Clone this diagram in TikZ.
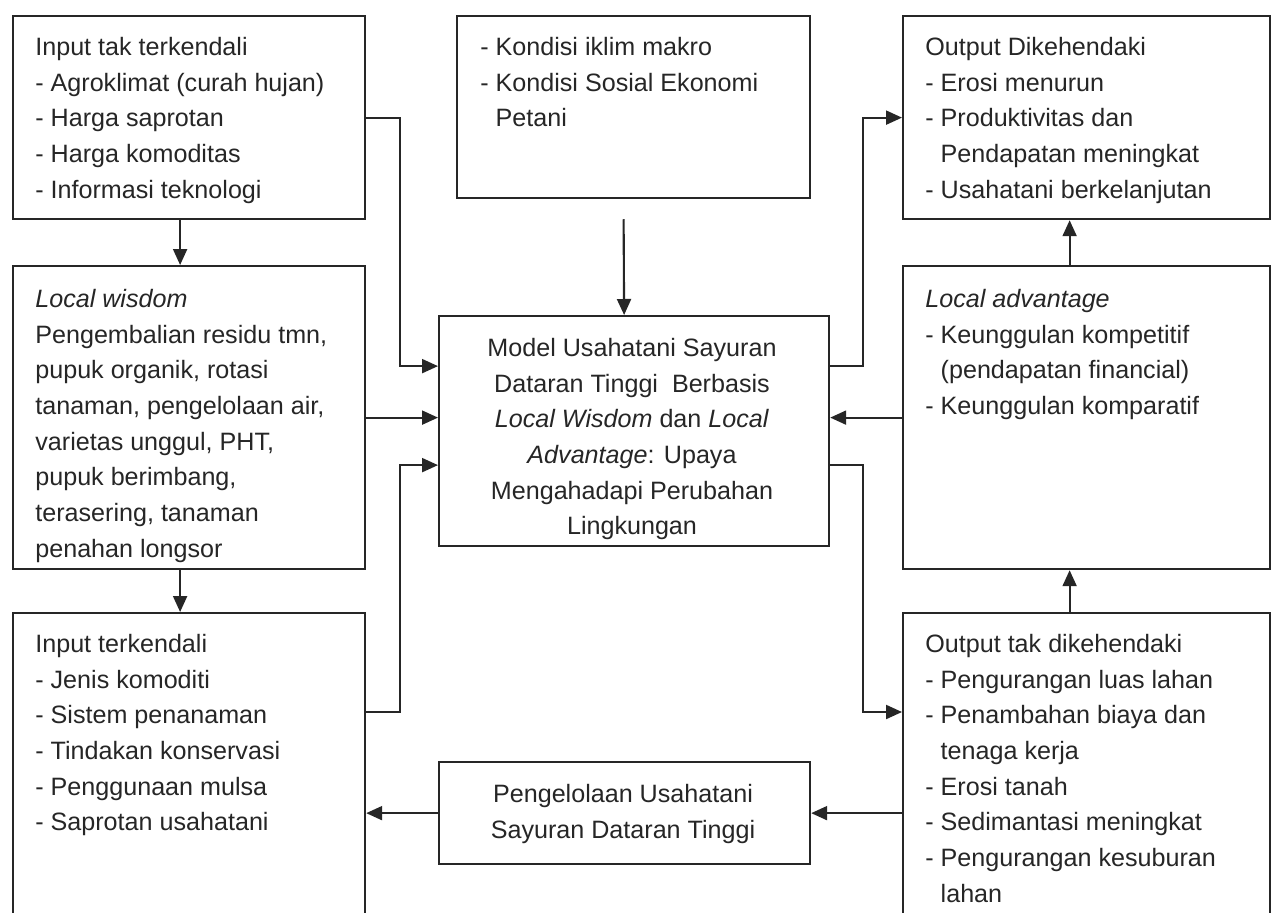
\documentclass[tikz,border=0pt]{standalone}
\usepackage{fontspec}
\setmainfont{Liberation Sans}
\usetikzlibrary{calc,arrows.meta}
\newcommand{\hangpad}{\phantom{-\ }}

\begin{document}
\begin{tikzpicture}[x=0.02cm, y=-0.02cm,
  box/.style={draw=black!85, line width=1.3pt, anchor=north west, inner sep=0pt},
  txt/.style={anchor=north west, align=left, inner sep=0pt, text=black!85, font=\fontsize{14.3}{20.3}\selectfont},
  ctxt/.style={txt, anchor=north, align=center},
  arr/.style={draw=black!85, line width=1.2pt, -{Triangle[length=0.32cm, width=0.28cm]}}]
  \useasboundingbox (0,0) rectangle (1273,912);
  \fill[white] (0,0) rectangle (1273,912);
  \clip (0,0) rectangle (1273,912);

  % Left column
  \node[box, minimum width=7.04cm, minimum height=4.06cm] (in_unctrl) at (12,15) {};
  \node[txt] (in_unctrl_t) at (35,37) {Input tak terkendali\\- Agroklimat (curah hujan)\\- Harga saprotan\\- Harga komoditas\\- Informasi teknologi};
  \node[box, minimum width=7.04cm, minimum height=6.06cm] (wisdom) at (12,265) {};
  \node[txt] (wisdom_t) at (35,289) {\textit{Local wisdom}\\Pengembalian residu tmn,\\pupuk organik, rotasi\\tanaman, pengelolaan air,\\varietas unggul, PHT,\\pupuk berimbang,\\terasering, tanaman\\penahan longsor};
  \node[box, minimum width=7.04cm, minimum height=6.36cm] (in_ctrl) at (12,612) {};
  \node[txt] (in_ctrl_t) at (35,634) {Input terkendali\\- Jenis komoditi\\- Sistem penanaman\\- Tindakan konservasi\\- Penggunaan mulsa\\- Saprotan usahatani};

  % Middle column
  \node[box, minimum width=7.06cm, minimum height=3.64cm] (kondisi) at (456,15) {};
  \node[txt] (kondisi_t) at (480,37) {- Kondisi iklim makro\\- Kondisi Sosial Ekonomi\\\hangpad Petani};
  \node[box, minimum width=7.8cm, minimum height=4.6cm] (model) at (438,315) {};
  \node[ctxt] (model_t) at (632,338) {Model Usahatani Sayuran\\Dataran Tinggi\ \ Berbasis\\\textit{Local Wisdom} dan \textit{Local}\\\textit{Advantage}: Upaya\\Mengahadapi Perubahan\\Lingkungan};
  \node[box, minimum width=7.42cm, minimum height=2.04cm] (kelola) at (438,761) {};
  \node[ctxt] (kelola_t) at (623,784) {Pengelolaan Usahatani\\Sayuran Dataran Tinggi};

  % Right column
  \node[box, minimum width=7.34cm, minimum height=4.06cm] (out_want) at (902,15) {};
  \node[txt] (out_want_t) at (925,37) {Output Dikehendaki\\- Erosi menurun\\- Produktivitas dan\\\hangpad Pendapatan meningkat\\- Usahatani berkelanjutan};
  \node[box, minimum width=7.34cm, minimum height=6.06cm] (advantage) at (902,265) {};
  \node[txt] (advantage_t) at (925,289) {\textit{Local advantage}\\- Keunggulan kompetitif\\\hangpad (pendapatan financial)\\- Keunggulan komparatif};
  \node[box, minimum width=7.34cm, minimum height=6.36cm] (out_unwant) at (902,612) {};
  \node[txt] (out_unwant_t) at (925,634) {Output tak dikehendaki\\- Pengurangan luas lahan\\- Penambahan biaya dan\\\hangpad tenaga kerja\\- Erosi tanah\\- Sedimantasi meningkat\\- Pengurangan kesuburan\\\hangpad lahan};

  % Inputs to the model
  \draw[arr] ([xshift=-0.18cm]in_unctrl.south) -- ([xshift=-0.18cm]wisdom.north);
  \draw[arr] ([xshift=-0.18cm]wisdom.south) -- ([xshift=-0.18cm]in_ctrl.north);
  \draw[arr] (in_unctrl.east) -| ($(model.west)+(-38,-65)$) -- ($(model.west)+(0,-65)$);
  \draw[arr] (wisdom.east) -- (wisdom.east -| model.west);
  \draw[arr] ($(in_ctrl.north east)+(0,100)$) -| ($(model.west)+(-38,34)$) -- ($(model.west)+(0,34)$);
  \draw[arr] ([shift={(-10,20)}]kondisi.south) -- ([xshift=-0.2cm]model.north);

  % Outputs of the model
  \draw[arr] ($(model.east)+(0,-65)$) -| ($(out_want.west)+(-39,0)$) -- (out_want.west);
  \draw[arr] (advantage.west) -- (advantage.west -| model.east);
  \draw[arr] ($(model.east)+(0,34)$) -| ($(out_unwant.north west)+(-39,100)$) -- ($(out_unwant.north west)+(0,100)$);
  \draw[arr] ([xshift=-0.34cm]advantage.north) -- ([xshift=-0.34cm]out_want.south);
  \draw[arr] ([xshift=-0.34cm]out_unwant.north) -- ([xshift=-0.34cm]advantage.south);

  % Feedback
  \draw[arr] (out_unwant.west |- kelola.east) -- (kelola.east);
  \draw[arr] (kelola.west) -- (kelola.west -| in_ctrl.east);
\end{tikzpicture}
\end{document}
